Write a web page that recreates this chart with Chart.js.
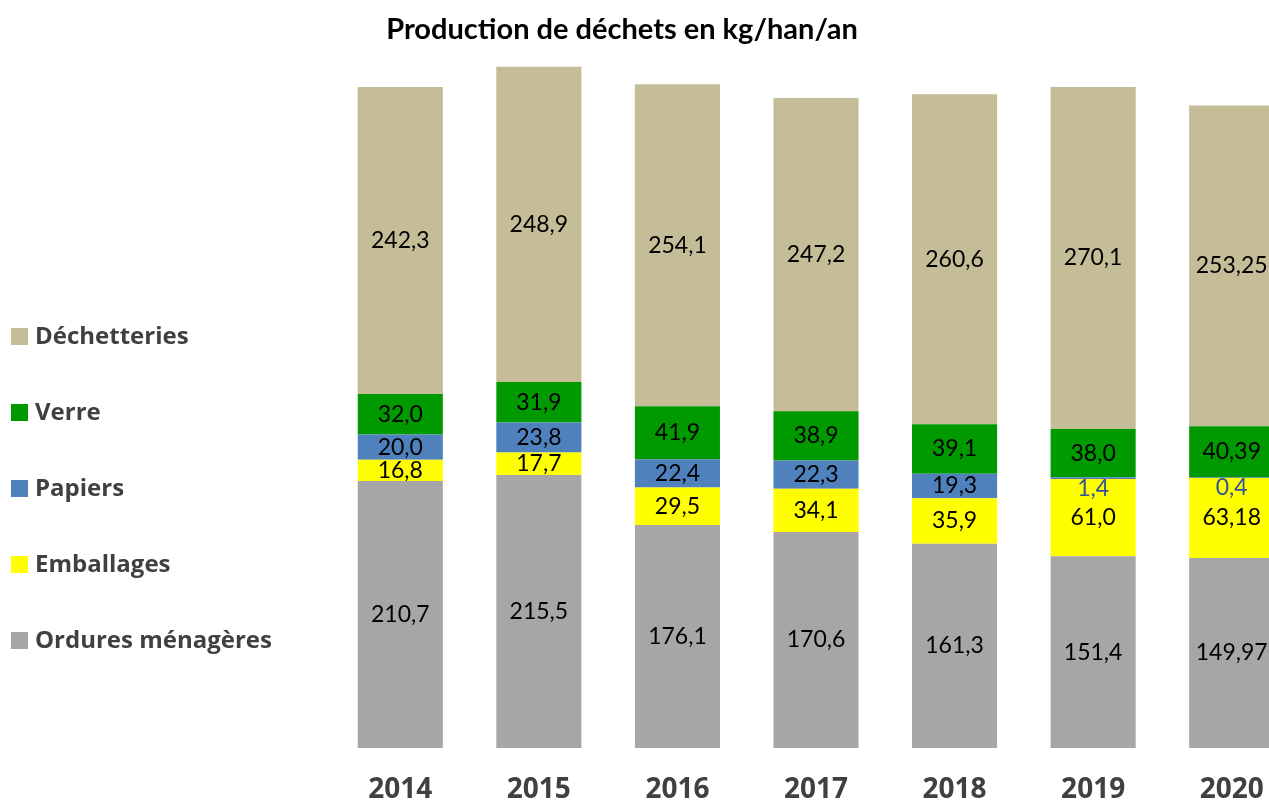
<!DOCTYPE html>
<html>
<head>
<meta charset="utf-8">
<script src="https://cdn.jsdelivr.net/npm/chart.js@4.4.0/dist/chart.umd.min.js"></script>
<style>
  html, body { margin: 0; padding: 0; background: #fff; overflow: hidden; }
  #wrap { position: absolute; left: 0; top: 0; width: 1269px; height: 801px; overflow: hidden; }
</style>
</head>
<body>
<div id="wrap"><canvas id="chart" width="1301" height="801"></canvas></div>
<script>
// données
const annees = ["2014", "2015", "2016", "2017", "2018", "2019", "2020"];
const ordures      = [210.7, 215.5, 176.1, 170.6, 161.3, 151.4, 149.97];
const emballages   = [16.8, 17.7, 29.5, 34.1, 35.9, 61.0, 63.18];
const papiers      = [20.0, 23.8, 22.4, 22.3, 19.3, 1.4, 0.4];
const verre        = [32.0, 31.9, 41.9, 38.9, 39.1, 38.0, 40.39];
const dechetteries = [242.3, 248.9, 254.1, 247.2, 260.6, 270.1, 253.25];

const FONT = "Lato, 'Open Sans', sans-serif";
const FONT2 = "'Open Sans', Lato, sans-serif";

function fmt(v) {
  let s = String(v);
  if (s.indexOf(".") < 0) s += ".0";
  return s.replace(".", ",");
}

// étiquettes de valeurs + titre + légende
const etiquettes = {
  id: "etiquettes",
  afterDatasetsDraw(chart) {
    const ctx = chart.ctx;
    ctx.save();
    ctx.textAlign = "center";
    ctx.textBaseline = "middle";
    chart.data.datasets.forEach((ds, i) => {
      const meta = chart.getDatasetMeta(i);
      meta.data.forEach((el, j) => {
        const v = ds.data[j];
        let y = (el.y + el.base) / 2;
        ctx.font = "23px " + FONT;
        ctx.fillStyle = "#000";
        if (v < 5) {
          y = el.base + 10;
          ctx.fillStyle = "#2F5597";
        }
        ctx.fillText(fmt(v), el.x, y);
      });
    });
    ctx.restore();
  },
  afterDraw(chart) {
    const ctx = chart.ctx;
    ctx.save();
    // titre
    ctx.font = "bold 29px " + FONT;
    ctx.fillStyle = "#000";
    ctx.textAlign = "center";
    ctx.textBaseline = "middle";
    ctx.fillText("Production de déchets en kg/han/an", 622, 30);
    // légende
    ctx.textAlign = "left";
    ctx.font = "bold 24px " + FONT2;
    const ds = chart.data.datasets.slice().reverse();
    ds.forEach((d, k) => {
      const y = 336 + k * 76;
      ctx.fillStyle = d.backgroundColor;
      ctx.fillRect(11, y - 8, 17, 17);
      ctx.fillStyle = "#404040";
      ctx.fillText(d.label, 35, y + 1);
    });
    ctx.restore();
  }
};

new Chart(document.getElementById("chart"), {
  type: "bar",
  data: {
    labels: annees,
    datasets: [
      { label: "Ordures ménagères", data: ordures, backgroundColor: "#A6A6A6" },
      { label: "Emballages", data: emballages, backgroundColor: "#FFFF00" },
      { label: "Papiers", data: papiers, backgroundColor: "#4F81BD" },
      { label: "Verre", data: verre, backgroundColor: "#009900" },
      { label: "Déchetteries", data: dechetteries, backgroundColor: "#C4BD97" }
    ]
  },
  options: {
    responsive: false,
    animation: false,
    layout: { padding: { left: 331, top: 64, right: 0, bottom: 0 } },
    datasets: { bar: { barPercentage: 0.614, categoryPercentage: 1 } },
    plugins: { legend: { display: false }, tooltip: { enabled: false } },
    scales: {
      x: {
        stacked: true,
        grid: { display: false, drawTicks: false },
        border: { display: false },
        ticks: { color: "#404040", font: { family: FONT2, size: 28, weight: "bold" }, padding: 25 },
        afterFit(scale) { scale.height = 53; }
      },
      y: { stacked: true, display: false, min: 0, max: 540 }
    }
  },
  plugins: [etiquettes]
});
</script>
</body>
</html>
